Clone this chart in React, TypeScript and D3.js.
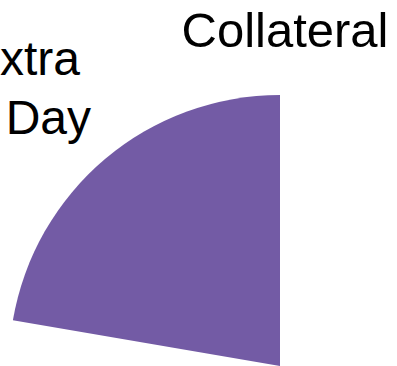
import React from "react";
import * as d3 from "d3";

const categories = ["Extra Day", "Collateral"];
const values = [77.7, 22.3];
const colors = ["none", "#735BA5"];

const W = 397;
const H = 366;
const cx = 280;
const cy = 366;
const radius = 271;

export default function App() {
  const pie = d3.pie<number>().sort(null).value((d) => d);
  const arcs = pie(values);
  const arcGen = d3.arc<d3.PieArcDatum<number>>().innerRadius(0).outerRadius(radius);
  return (
    <svg
      width={W}
      height={H}
      style={{ position: "absolute", left: 0, top: 0, display: "block" }}
      fontFamily="'Liberation Sans', Arial, sans-serif"
    >
      <rect width={W} height={H} fill="#fff" />
      <g transform={`translate(${cx},${cy})`}>
        {arcs.map((a, i) => (
          <path key={categories[i]} d={arcGen(a) || ""} fill={colors[i]} />
        ))}
      </g>
      <text x={285} y={47} fontSize={49} textAnchor="middle" fill="#000">
        {categories[1]}
      </text>
      <text fontSize={48} fill="#000">
        <tspan x={80} y={75} textAnchor="end">Extra</tspan>
        <tspan x={91} y={134} textAnchor="end">Day</tspan>
      </text>
    </svg>
  );
}
